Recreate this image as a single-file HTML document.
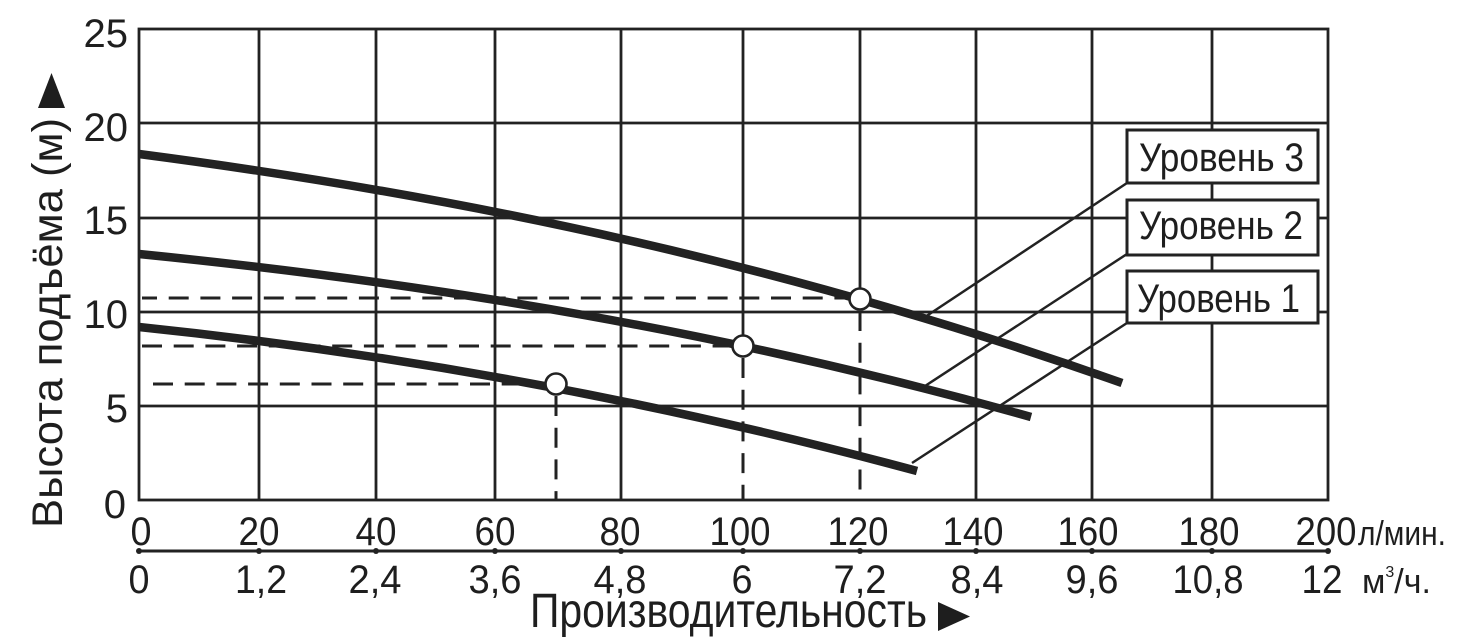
<!DOCTYPE html>
<html>
<head>
<meta charset="utf-8">
<style>
  html,body{margin:0;padding:0;background:#fff;}
  svg{display:block;}
  text{font-family:"Liberation Sans", Arial, sans-serif; fill:#1e1e1e;}
</style>
</head>
<body>
<svg width="1461" height="641" viewBox="0 0 1461 641" xmlns="http://www.w3.org/2000/svg">
  <rect x="0" y="0" width="1461" height="641" fill="#fff"/>

  <!-- grid verticals -->
  <g stroke="#222" stroke-width="2.8" fill="none">
    <line x1="259" y1="29" x2="259" y2="500"/>
    <line x1="376" y1="29" x2="376" y2="500"/>
    <line x1="495" y1="29" x2="495" y2="500"/>
    <line x1="621" y1="29" x2="621" y2="500"/>
    <line x1="743" y1="29" x2="743" y2="346"/>
    <line x1="860" y1="29" x2="860" y2="299"/>
    <line x1="976" y1="29" x2="976" y2="500"/>
    <line x1="1092" y1="29" x2="1092" y2="500"/>
    <line x1="1212" y1="29" x2="1212" y2="500"/>
    <!-- grid horizontals -->
    <line x1="139" y1="123" x2="1328" y2="123"/>
    <line x1="139" y1="218" x2="1328" y2="218"/>
    <line x1="139" y1="312" x2="1328" y2="312"/>
    <line x1="139" y1="406" x2="1328" y2="406"/>
    <!-- frame -->
    <rect x="139" y="29" width="1189" height="471"/>
  </g>

  <!-- dashed guide lines -->
  <g stroke="#222" stroke-width="3" fill="none" stroke-dasharray="20 11.7">
    <line x1="142" y1="298" x2="850" y2="298" stroke-dashoffset="5"/>
    <line x1="142" y1="346" x2="733" y2="346" stroke-dashoffset="0"/>
    <line x1="153" y1="384" x2="546" y2="384"/>
    <line x1="556" y1="396" x2="556" y2="500"/>
    <line x1="743" y1="358" x2="743" y2="500"/>
    <line x1="860" y1="311" x2="860" y2="500"/>
  </g>

  <!-- leader lines -->
  <g stroke="#222" stroke-width="2.5" fill="none">
    <line x1="1127" y1="183" x2="925" y2="317"/>
    <line x1="1127" y1="254" x2="922" y2="388"/>
    <line x1="1127" y1="323" x2="912" y2="463"/>
  </g>

  <!-- curves -->
  <g stroke="#222" stroke-width="8.5" fill="none" stroke-linecap="butt">
    <path d="M139,154 C469,197 792,266 1122,383"/>
    <path d="M139,254 C439,284 731,333 1031,417"/>
    <path d="M139,327 C399,354 657,401 917,471"/>
  </g>

  <!-- operating points -->
  <g stroke="#222" stroke-width="2.6" fill="#fff">
    <circle cx="556" cy="384" r="10.5"/>
    <circle cx="743" cy="346" r="10.5"/>
    <circle cx="860" cy="299" r="10.5"/>
  </g>

  <!-- legend boxes -->
  <g stroke="#222" stroke-width="3" fill="#fff">
    <rect x="1127" y="130" width="191" height="53"/>
    <rect x="1127" y="200" width="191" height="55"/>
    <rect x="1127" y="271" width="191" height="52"/>
  </g>
  <text x="1139" y="171" font-size="40" textLength="165" lengthAdjust="spacingAndGlyphs">Уровень 3</text>
  <text x="1139" y="239" font-size="40" textLength="164" lengthAdjust="spacingAndGlyphs">Уровень 2</text>
  <text x="1137" y="312" font-size="40" textLength="163" lengthAdjust="spacingAndGlyphs">Уровень 1</text>

  <!-- Y tick labels -->
  <g font-size="40" text-anchor="end">
    <text x="128" y="47">25</text>
    <text x="128" y="141">20</text>
    <text x="128" y="234">15</text>
    <text x="128" y="328">10</text>
    <text x="128" y="422">5</text>
    <text x="126" y="518">0</text>
  </g>

  <!-- X tick labels (upper, l/min) -->
  <g font-size="40" text-anchor="middle">
    <text x="141" y="545" textLength="21" lengthAdjust="spacingAndGlyphs">0</text>
    <text x="259" y="545" textLength="41" lengthAdjust="spacingAndGlyphs">20</text>
    <text x="376" y="545" textLength="41" lengthAdjust="spacingAndGlyphs">40</text>
    <text x="495" y="545" textLength="41" lengthAdjust="spacingAndGlyphs">60</text>
    <text x="620" y="545" textLength="41" lengthAdjust="spacingAndGlyphs">80</text>
    <text x="740" y="545" textLength="61" lengthAdjust="spacingAndGlyphs">100</text>
    <text x="858" y="545" textLength="61" lengthAdjust="spacingAndGlyphs">120</text>
    <text x="973" y="545" textLength="61" lengthAdjust="spacingAndGlyphs">140</text>
    <text x="1088" y="545" textLength="61" lengthAdjust="spacingAndGlyphs">160</text>
    <text x="1209" y="545" textLength="61" lengthAdjust="spacingAndGlyphs">180</text>
    <text x="1326" y="545" textLength="61" lengthAdjust="spacingAndGlyphs">200</text>
  </g>
  <text x="1358" y="545" font-size="34" textLength="88" lengthAdjust="spacingAndGlyphs">л/мин.</text>

  <!-- secondary axis line -->
  <g stroke="#222" stroke-width="3">
    <line x1="139" y1="551" x2="1328" y2="551"/>
  </g>
  <g fill="#222">
    <circle cx="139" cy="551" r="3"/>
    <circle cx="259" cy="551" r="3"/>
    <circle cx="376" cy="551" r="3"/>
    <circle cx="495" cy="551" r="3"/>
    <circle cx="621" cy="551" r="3"/>
    <circle cx="743" cy="551" r="3"/>
    <circle cx="860" cy="551" r="3"/>
    <circle cx="976" cy="551" r="3"/>
    <circle cx="1092" cy="551" r="3"/>
    <circle cx="1212" cy="551" r="3"/>
    <circle cx="1328" cy="551" r="3"/>
  </g>

  <!-- X tick labels (lower, m3/h) -->
  <g font-size="40" text-anchor="middle">
    <text x="139" y="593" textLength="21" lengthAdjust="spacingAndGlyphs">0</text>
    <text x="261" y="593" textLength="52" lengthAdjust="spacingAndGlyphs">1,2</text>
    <text x="375" y="593" textLength="53" lengthAdjust="spacingAndGlyphs">2,4</text>
    <text x="495" y="593" textLength="53" lengthAdjust="spacingAndGlyphs">3,6</text>
    <text x="620" y="593" textLength="53" lengthAdjust="spacingAndGlyphs">4,8</text>
    <text x="742" y="593" textLength="21" lengthAdjust="spacingAndGlyphs">6</text>
    <text x="860" y="593" textLength="53" lengthAdjust="spacingAndGlyphs">7,2</text>
    <text x="977" y="593" textLength="53" lengthAdjust="spacingAndGlyphs">8,4</text>
    <text x="1092" y="593" textLength="53" lengthAdjust="spacingAndGlyphs">9,6</text>
    <text x="1208" y="593" textLength="71" lengthAdjust="spacingAndGlyphs">10,8</text>
    <text x="1322" y="593" textLength="41" lengthAdjust="spacingAndGlyphs">12</text>
  </g>
  <text x="1362" y="593" font-size="34">м<tspan font-size="16" dy="-16">3</tspan><tspan dy="16">/ч.</tspan></text>

  <!-- X axis title -->
  <text x="530" y="627" font-size="48" textLength="397" lengthAdjust="spacingAndGlyphs">Производительность</text>
  <polygon points="938,602 938,631 970,616.5" fill="#1e1e1e"/>

  <!-- Y axis title -->
  <text transform="translate(62,528) rotate(-90)" font-size="43" textLength="410" lengthAdjust="spacingAndGlyphs">Высота подъёма (м)</text>
  <polygon points="38,108 65,108 51.5,73" fill="#1e1e1e"/>
</svg>
</body>
</html>
